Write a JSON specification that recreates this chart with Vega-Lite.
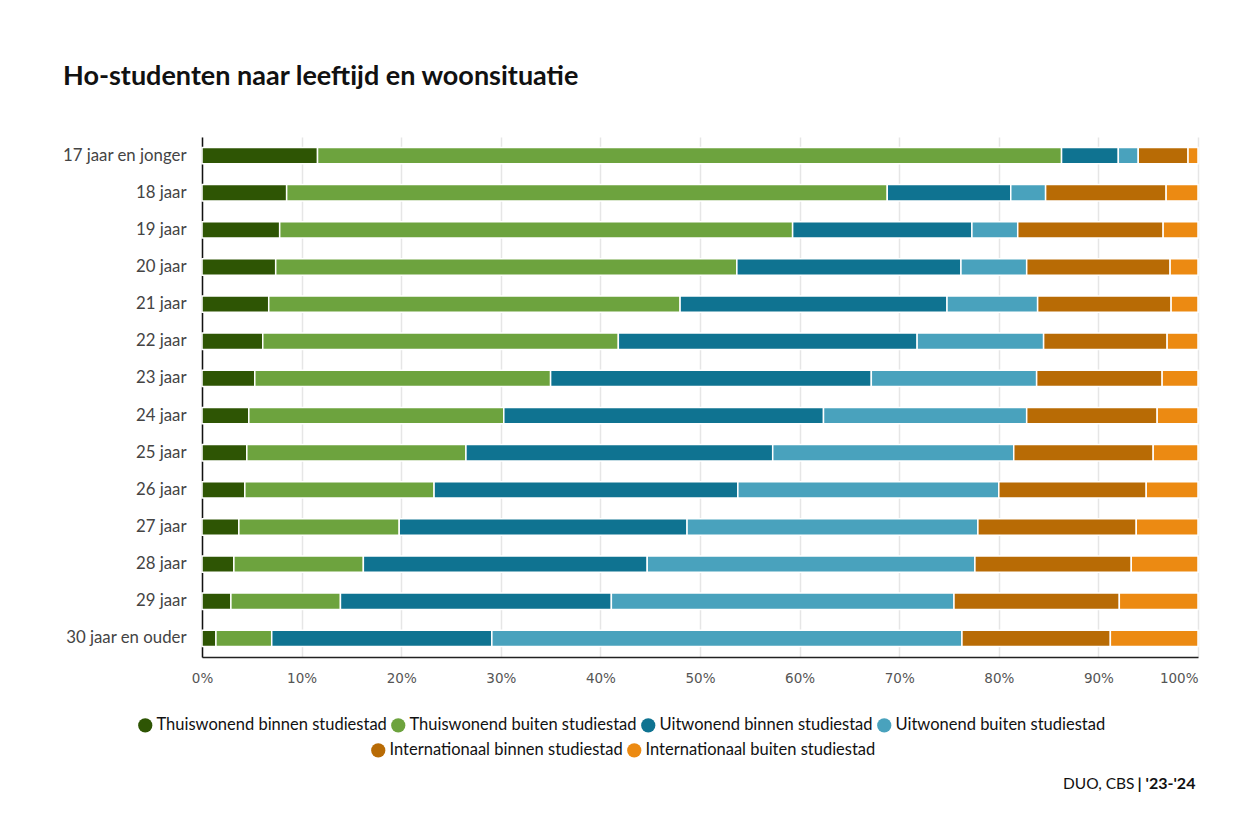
{
  "$schema": "https://vega.github.io/schema/vega-lite/v6.json",
  "width": 996,
  "height": 520,
  "autosize": {"type": "none"},
  "padding": {"left": 202, "top": 137, "right": 48, "bottom": 161},
  "background": "white",
  "config": {"view": {"stroke": null}},
  "title": {
    "text": "Ho-studenten naar leeftijd en woonsituatie",
    "anchor": "start",
    "frame": "group",
    "dx": -139,
    "offset": 25,
    "baseline": "alphabetic",
    "font": "Lato",
    "fontSize": 27,
    "fontWeight": "bold",
    "color": "#111111"
  },
  "datasets": {
    "ages": [
      {"leeftijd": "17 jaar en jonger", "tb": 11.6, "tu": 74.7, "ub": 5.7, "uu": 2.0, "ib": 5.0, "iu": 1.0},
      {"leeftijd": "18 jaar", "tb": 8.5, "tu": 60.3, "ub": 12.4, "uu": 3.5, "ib": 12.1, "iu": 3.2},
      {"leeftijd": "19 jaar", "tb": 7.8, "tu": 51.5, "ub": 18.0, "uu": 4.6, "ib": 14.6, "iu": 3.5},
      {"leeftijd": "20 jaar", "tb": 7.4, "tu": 46.3, "ub": 22.5, "uu": 6.6, "ib": 14.4, "iu": 2.8},
      {"leeftijd": "21 jaar", "tb": 6.7, "tu": 41.3, "ub": 26.8, "uu": 9.1, "ib": 13.4, "iu": 2.7},
      {"leeftijd": "22 jaar", "tb": 6.1, "tu": 35.7, "ub": 30.0, "uu": 12.7, "ib": 12.4, "iu": 3.1},
      {"leeftijd": "23 jaar", "tb": 5.3, "tu": 29.7, "ub": 32.2, "uu": 16.6, "ib": 12.6, "iu": 3.6},
      {"leeftijd": "24 jaar", "tb": 4.7, "tu": 25.6, "ub": 32.1, "uu": 20.4, "ib": 13.1, "iu": 4.1},
      {"leeftijd": "25 jaar", "tb": 4.5, "tu": 22.0, "ub": 30.8, "uu": 24.2, "ib": 14.0, "iu": 4.5},
      {"leeftijd": "26 jaar", "tb": 4.3, "tu": 19.0, "ub": 30.5, "uu": 26.2, "ib": 14.8, "iu": 5.2},
      {"leeftijd": "27 jaar", "tb": 3.7, "tu": 16.1, "ub": 28.9, "uu": 29.2, "ib": 15.9, "iu": 6.2},
      {"leeftijd": "28 jaar", "tb": 3.2, "tu": 13.0, "ub": 28.5, "uu": 32.9, "ib": 15.7, "iu": 6.7},
      {"leeftijd": "29 jaar", "tb": 2.9, "tu": 11.0, "ub": 27.2, "uu": 34.4, "ib": 16.6, "iu": 7.9},
      {"leeftijd": "30 jaar en ouder", "tb": 1.4, "tu": 5.6, "ub": 22.1, "uu": 47.2, "ib": 14.9, "iu": 8.8}
    ],
    "cats": [
      {"key": "tb", "woonsituatie": "Thuiswonend binnen studiestad", "nr": 1},
      {"key": "tu", "woonsituatie": "Thuiswonend buiten studiestad", "nr": 2},
      {"key": "ub", "woonsituatie": "Uitwonend binnen studiestad", "nr": 3},
      {"key": "uu", "woonsituatie": "Uitwonend buiten studiestad", "nr": 4},
      {"key": "ib", "woonsituatie": "Internationaal binnen studiestad", "nr": 5},
      {"key": "iu", "woonsituatie": "Internationaal buiten studiestad", "nr": 6}
    ]
  },
  "data": {"name": "ages"},
  "transform": [
    {"fold": ["tb", "tu", "ub", "uu", "ib", "iu"], "as": ["key", "aandeel"]},
    {"lookup": "key", "from": {"data": {"name": "cats"}, "key": "key", "fields": ["woonsituatie", "nr"]}},
    {"stack": "aandeel", "groupby": ["leeftijd"], "sort": [{"field": "nr", "order": "ascending"}], "as": ["x0", "x1"], "offset": "normalize"}
  ],
  "encoding": {
    "y": {
      "field": "leeftijd",
      "type": "nominal",
      "sort": ["17 jaar en jonger", "18 jaar", "19 jaar", "20 jaar", "21 jaar", "22 jaar", "23 jaar", "24 jaar", "25 jaar", "26 jaar", "27 jaar", "28 jaar", "29 jaar", "30 jaar en ouder"],
      "scale": {"paddingInner": 0.56, "paddingOuter": 0.28},
      "axis": {
        "title": null,
        "domainColor": "#111111",
        "domainWidth": 1.5,
        "ticks": false,
        "grid": false,
        "labelFont": "Lato",
        "labelFontSize": 16.8,
        "labelColor": "#444444",
        "labelPadding": 16
      }
    }
  },
  "layer": [
    {
      "transform": [{"filter": "datum.nr <= 4"}],
      "mark": {"type": "bar", "stroke": "white", "strokeWidth": 1.5},
      "encoding": {
        "x": {
          "field": "x0",
          "type": "quantitative",
          "scale": {"domain": [0, 1], "nice": false},
          "axis": {
            "orient": "bottom",
            "values": [0, 0.1, 0.2, 0.3, 0.4, 0.5, 0.6, 0.7, 0.8, 0.9, 1],
            "format": ".0%",
            "grid": true,
            "gridColor": "#e6e6e6",
            "gridWidth": 1.5,
            "domainColor": "#222222",
            "domainWidth": 1.5,
            "ticks": false,
            "labelFont": "DejaVu Sans",
            "labelFontSize": 13.5,
            "labelColor": "#555555",
            "labelPadding": 14,
            "labelFlush": false,
            "labelAlign": {"condition": {"test": "datum.value >= 1", "value": "right"}, "value": "center"},
            "title": "DUO, CBS",
            "titleFont": "Lato",
            "titleFontSize": 15.5,
            "titleFontWeight": "normal",
            "titleColor": "#111111",
            "titleX": 932,
            "titleY": 131,
            "titleAlign": "right",
            "titleBaseline": "alphabetic",
            "titleAnchor": null
          }
        },
        "x2": {"field": "x1"},
        "color": {
          "field": "woonsituatie",
          "type": "nominal",
          "scale": {
            "domain": ["Thuiswonend binnen studiestad", "Thuiswonend buiten studiestad", "Uitwonend binnen studiestad", "Uitwonend buiten studiestad"],
            "range": ["#2e5504", "#6da33e", "#0f7391", "#49a2bd"]
          },
          "legend": {
            "title": null,
            "orient": "none",
            "legendX": -65,
            "legendY": 580,
            "direction": "horizontal",
            "symbolType": "circle",
            "symbolSize": 201,
            "symbolStrokeWidth": 0,
            "labelFont": "Lato",
            "labelFontSize": 16.5,
            "labelColor": "#111111",
            "labelOffset": 3,
            "columnPadding": 3,
            "labelLimit": 400
          }
        }
      }
    },
    {
      "transform": [{"filter": "datum.nr > 4"}],
      "mark": {"type": "bar", "stroke": "white", "strokeWidth": 1.5},
      "encoding": {
        "x": {
          "field": "x0",
          "type": "quantitative",
          "scale": {"domain": [0, 1], "nice": false},
          "axis": {
            "orient": "bottom",
            "labels": false,
            "ticks": false,
            "domain": false,
            "grid": false,
            "title": "| '23-'24",
            "titleFont": "Lato",
            "titleFontSize": 16,
            "titleFontWeight": "bold",
            "titleColor": "#111111",
            "titleX": 935,
            "titleY": 131,
            "titleAlign": "left",
            "titleBaseline": "alphabetic",
            "titleAnchor": null
          }
        },
        "x2": {"field": "x1"},
        "fill": {
          "field": "woonsituatie",
          "type": "nominal",
          "scale": {
            "domain": ["Internationaal binnen studiestad", "Internationaal buiten studiestad"],
            "range": ["#b86b05", "#ec8a12"]
          },
          "legend": {
            "title": null,
            "orient": "none",
            "legendX": 168,
            "legendY": 605,
            "direction": "horizontal",
            "symbolType": "circle",
            "symbolSize": 201,
            "symbolStrokeWidth": 0,
            "labelFont": "Lato",
            "labelFontSize": 16.5,
            "labelColor": "#111111",
            "labelOffset": 3,
            "columnPadding": 3,
            "labelLimit": 400
          }
        }
      }
    }
  ],
  "resolve": {"axis": {"x": "independent"}}
}
